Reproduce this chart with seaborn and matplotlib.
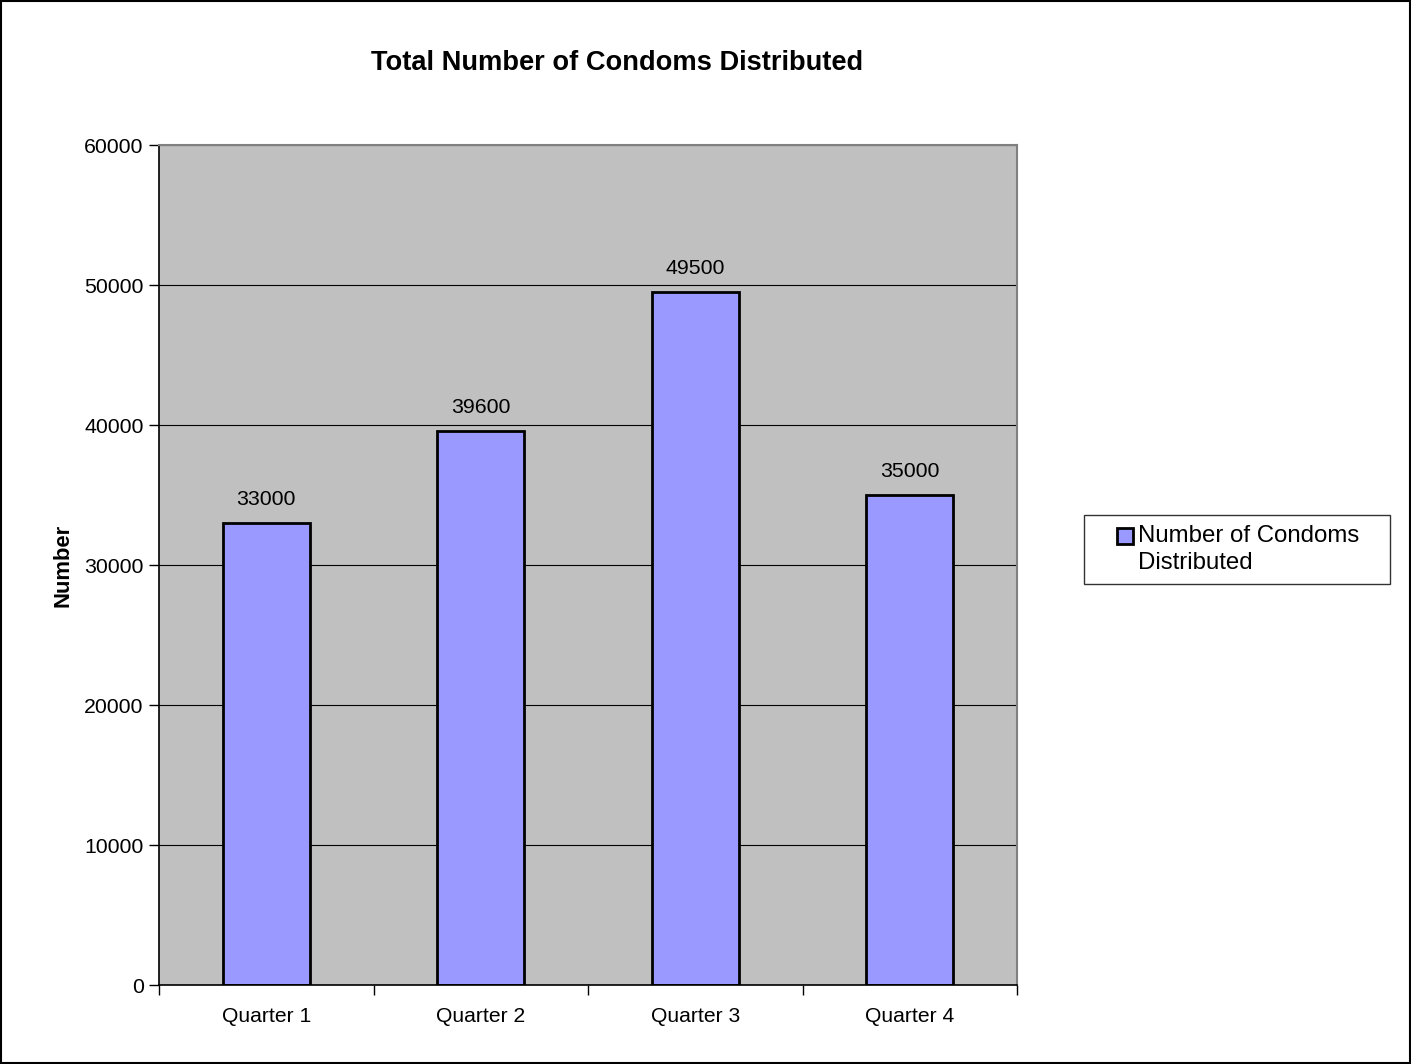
import matplotlib
matplotlib.use("Agg")
import matplotlib.pyplot as plt
import seaborn as sns
import pandas as pd
from matplotlib.patches import Rectangle
from matplotlib.container import BarContainer
from matplotlib.legend_handler import HandlerPatch, update_from_first_child

quarters = ["Quarter 1", "Quarter 2", "Quarter 3", "Quarter 4"]
condoms = [33000, 39600, 49500, 35000]
y_ticks = [0, 10000, 20000, 30000, 40000, 50000, 60000]

sns.set_style("white")
plt.rcParams["font.family"] = ["Liberation Sans", "DejaVu Sans"]
plt.rcParams["text.color"] = "black"
plt.rcParams["axes.labelcolor"] = "black"
plt.rcParams["xtick.color"] = "black"
plt.rcParams["ytick.color"] = "black"

df = pd.DataFrame({"Quarter": quarters, "Count": condoms})

fig = plt.figure(figsize=(14.11, 10.64), dpi=100)
ax = fig.add_axes([0.1127, 0.0742, 0.6081, 0.7895])
ax.set_facecolor("#c0c0c0")

sns.barplot(data=df, x="Quarter", y="Count", color="#9999ff", width=0.405,
            edgecolor="black", linewidth=2, saturation=1, ax=ax,
            label="Number of Condoms\nDistributed")

ax.set_ylim(0, 60000)
ax.set_xlim(-0.5, 3.5)
ax.set_yticks(y_ticks)
ax.set_yticklabels([str(v) for v in y_ticks], fontsize=15.3)
ax.set_xticks(range(len(quarters)))
ax.set_xticklabels(quarters, fontsize=15.2)
ax.tick_params(axis="x", length=0, pad=16)
ax.tick_params(axis="y", length=7, width=1, color="black", left=True, pad=4)
# category boundary ticks on the x axis
ax.set_xticks([-0.5, 0.5, 1.5, 2.5, 3.5], minor=True)
ax.tick_params(axis="x", which="minor", length=7, width=1, color="black", bottom=True)

ax.yaxis.grid(True, color="black", linewidth=0.8)
ax.set_axisbelow(True)

for side in ["top", "right"]:
    ax.spines[side].set_color("#808080")
    ax.spines[side].set_linewidth(1.5)
for side in ["left", "bottom"]:
    ax.spines[side].set_color("black")
    ax.spines[side].set_linewidth(1.2)

ax.set_xlabel("")
ax.set_ylabel("Number", fontsize=15.8, fontweight="bold", labelpad=8)

for i, v in enumerate(condoms):
    ax.annotate(str(v), (i, v), xytext=(0, 10), textcoords="offset points",
                ha="center", va="bottom", fontsize=15.3)

fig.text(0.437, 0.941, "Total Number of Condoms Distributed", ha="center",
         va="center", fontsize=19.6, fontweight="bold")


def square_at_right(legend, orig_handle, xdescent, ydescent, width, height, fontsize):
    # small square key at the right of the handle slot, level with the first text line
    s = 11.5
    lift = 9.7
    return Rectangle((width - s - xdescent, (height - s) / 2 - ydescent + lift), s, s)


square_handler = HandlerPatch(patch_func=square_at_right)
bar_square_handler = HandlerPatch(patch_func=square_at_right,
                                  update_func=update_from_first_child)

leg = ax.legend(loc="center left", bbox_to_anchor=(0.7683, 0.4836, 0.2169, 0),
                bbox_transform=fig.transFigure, mode="expand", fontsize=17.3,
                frameon=True, fancybox=False, edgecolor="black",
                handlelength=1.63, handleheight=0.7, handletextpad=0.2,
                borderpad=0.42, borderaxespad=0,
                handler_map={Rectangle: square_handler,
                             BarContainer: bar_square_handler})
leg.get_frame().set_linewidth(1.0)
for t in leg.get_texts():
    t.set_linespacing(1.25)

# outer chart border
fig.patches.append(Rectangle((0.001, 0.001), 0.998, 0.998, transform=fig.transFigure,
                             fill=False, edgecolor="black", linewidth=1.5))

fig.savefig("out.png", dpi=100)
